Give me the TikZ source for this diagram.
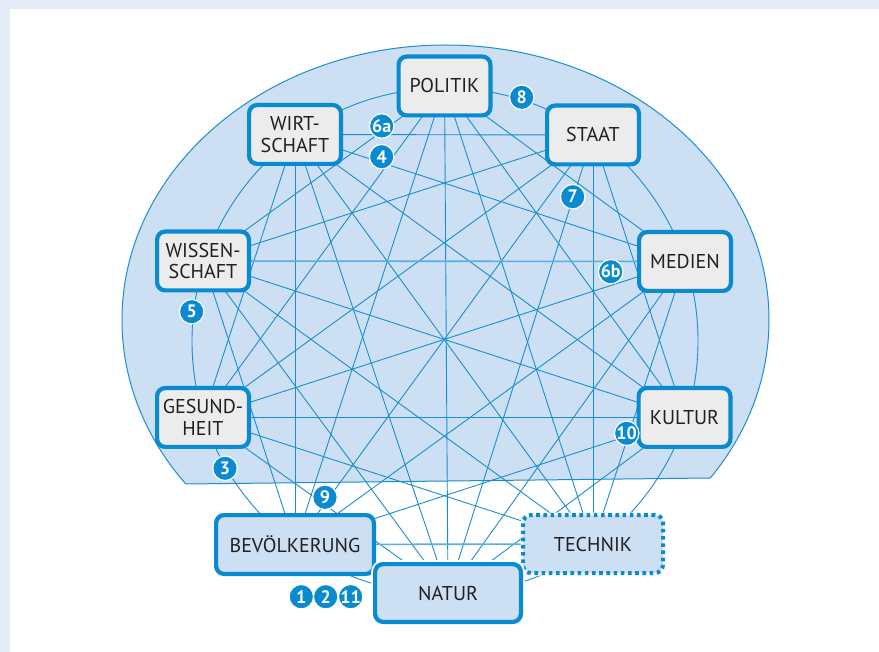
\documentclass[tikz,border=0pt]{standalone}
\usepackage{fontspec}
\setmainfont{PT Sans}
\definecolor{frameblue}{HTML}{E3ECF7}
\definecolor{regionblue}{HTML}{CCDFF3}
\definecolor{lineblue}{HTML}{1A8FD0}
\definecolor{lightline}{HTML}{5AAEE0}
\definecolor{boxblue}{HTML}{0A8AD0}
\definecolor{boxgray}{HTML}{ECECEC}
\definecolor{txt}{HTML}{231F20}
\pgfdeclarelayer{back}
\pgfsetlayers{back,main}
\tikzset{
  box/.style={draw=boxblue, line width=4.2pt, rounded corners=8pt, fill=boxgray,
    minimum width=91.8pt, minimum height=58.8pt, align=center, text=txt,
    font=\fontsize{20}{21.7}\selectfont, inner sep=0pt},
  bluebox/.style={box, fill=regionblue},
  halo/.style={preaction={draw=white, line width=8pt}},
  dottedbox/.style={bluebox, draw=none,
    preaction={draw=white, line width=5pt},
    postaction={draw=boxblue, line width=4pt, dash pattern=on 3.6pt off 3.6pt}},
  badge/.style={circle, fill=boxblue, draw=white, line width=1.2pt, text=white,
    font=\bfseries\fontsize{18}{18}\selectfont, minimum size=24.5pt, inner sep=0pt},
  link/.style={draw=lineblue, line width=0.9pt},
  widelink/.style={draw=lightline, line width=1.6pt},
  ringline/.style={draw=lineblue, line width=0.9pt}
}
\begin{document}
\begin{tikzpicture}[x=1pt,y=-1pt]
\useasboundingbox (0,0) rectangle (879,652);

% nodes
\node[box] (P) at (444.5,86) {POLITIK};
\node[box] (Wi) at (295,134.5) {WIRT-\\SCHAFT};
\node[box] (S) at (593,135) {STAAT};
\node[box] (Ws) at (203,261) {WISSEN-\\SCHAFT};
\node[box] (M) at (685,261.5) {MEDIEN};
\node[box] (G) at (203,417.5) {GESUND-\\HEIT};
\node[box] (K) at (684.5,417.5) {KULTUR};
\node[bluebox, minimum width=157.8pt] (B) at (295,544.5) {BEVÖLKERUNG};
\node[dottedbox, minimum width=140pt, minimum height=58pt] (T) at (593,544) {TECHNIK};
\node[bluebox, halo, minimum width=145.8pt, minimum height=57.8pt] (N) at (448,593) {NATUR};

\coordinate (rc) at (445,341);
\coordinate (ec) at (445.5,320);
\coordinate (bl) at (185.8,484);
\coordinate (br) at (710.3,478);
\coordinate (f0) at (0,0);
\coordinate (f1) at (879,652);
\coordinate (w0) at (10,9);

\begin{pgfonlayer}{back}
  \fill[frameblue] (f0) rectangle (f1);
  \fill[white] (w0) rectangle (f1);
  \begin{scope}
    \clip (0,0) -- (879,0) -- (879,476.1) -- (0,486.1) -- cycle;
    \fill[regionblue, draw=lineblue, line width=1pt] (ec) ellipse [x radius=323.5pt, y radius=275pt];
  \end{scope}
  \draw[lineblue, line width=1pt] (bl) -- (br);
  \draw[ringline] (rc) circle [radius=253pt];
  \foreach \a/\b in {P/M,P/K,P/T,P/N,P/B,P/G,P/Ws,
                     S/K,S/T,S/N,S/B,S/G,S/Ws,S/Wi,
                     M/T,M/N,M/B,M/G,M/Wi,
                     K/N,K/B,K/G,K/Ws,K/Wi,
                     T/G,T/Ws,T/Wi,
                     N/G,N/Ws,N/Wi,
                     B/Ws,B/Wi,
                     G/Wi}
    \draw[link] (\a.center) -- (\b.center);
  \draw[widelink] (Ws.center) -- (M.center);
  \draw[widelink] (B.center) -- (T.center);
\end{pgfonlayer}

% badges
\node[badge] (b8) at (521.7,97.3) {8};
\node[badge] (b6a) at (381.7,126) {6a};
\node[badge] (b4) at (381.7,156.7) {4};
\node[badge] (b7) at (572.7,196.7) {7};
\node[badge] (b6b) at (610.7,271.7) {6b};
\node[badge] (b5) at (191.7,311.7) {5};
\node[badge] (b10) at (626.7,433.3) {10};
\node[badge] (b3) at (225,468.3) {3};
\node[badge] (b9) at (325,497.3) {9};
\node[badge] (b1) at (301.3,596.7) {1};
\node[badge] (b2) at (325.7,596.7) {2};
\node[badge] (b11) at (350.7,596.7) {11};
\end{tikzpicture}
\end{document}
